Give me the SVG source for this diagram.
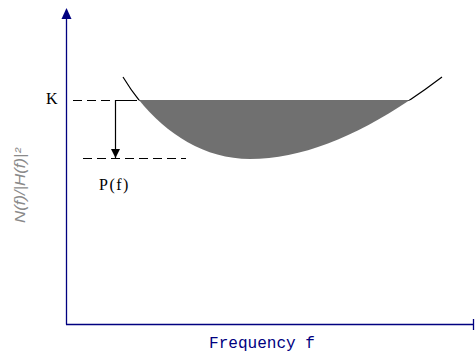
<svg xmlns="http://www.w3.org/2000/svg" width="475" height="352" viewBox="0 0 475 352">
<style>
.axis{stroke:#000080;stroke-width:1.3;fill:none}
.curve{stroke:#000;stroke-width:1.2;fill:none}
.dash{stroke:#000;stroke-width:1.2;stroke-dasharray:9,5;fill:none}
.lbl{font-family:"Liberation Serif",serif;font-size:16px;fill:#000}
</style>
<defs>
<marker id="ah" markerWidth="10" markerHeight="10" refX="9" refY="5" orient="auto" markerUnits="userSpaceOnUse">
<path d="M0,0.5 L9,5 L0,9.5 Z" fill="#000"/>
</marker>
<clipPath id="below"><rect x="0" y="100" width="475" height="100"/></clipPath>
<clipPath id="above"><rect x="0" y="0" width="475" height="100.5"/></clipPath>
</defs>
<g id="axes">
<line class="axis" x1="66.5" y1="16" x2="66.5" y2="324.5"/>
<path d="M66.5,8 L71.5,19 L61.5,19 Z" fill="#000080"/>
<line class="axis" x1="66" y1="324.5" x2="474" y2="324.5"/>
<line class="axis" x1="473.5" y1="319" x2="473.5" y2="330"/>
</g>
<g id="region">
<path d="M123,77 C150,122 195,159 250,159 C310,159 375,128 442,77 Z" fill="#707070" clip-path="url(#below)"/>
</g>
<g id="curve">
<path class="curve" d="M123,77 C150,122 195,159 250,159 C310,159 375,128 442,77" clip-path="url(#above)"/>
</g>
<g id="connectors">
<line class="dash" x1="73" y1="100.5" x2="137" y2="100.5"/>
<line class="dash" x1="83" y1="158.5" x2="186" y2="158.5"/>
<path d="M137,100.5 H115.5 V158" stroke="#000" stroke-width="1.2" fill="none" marker-end="url(#ah)"/>
</g>
<g id="labels">
<text class="lbl" x="46" y="104">K</text>
<text class="lbl" x="99" y="190" font-size="17" letter-spacing="1.5">P(f)</text>
<text x="0" y="0" transform="translate(25,223) rotate(-90)" font-family="Liberation Sans,sans-serif" font-size="15" font-style="italic" fill="#8a8a8a" textLength="75" lengthAdjust="spacingAndGlyphs">N(f)/|H(f)|²</text>
<text x="209" y="348" font-family="Liberation Mono,monospace" font-size="16" fill="#000080" textLength="106" lengthAdjust="spacingAndGlyphs">Frequency f</text>
</g>
</svg>
